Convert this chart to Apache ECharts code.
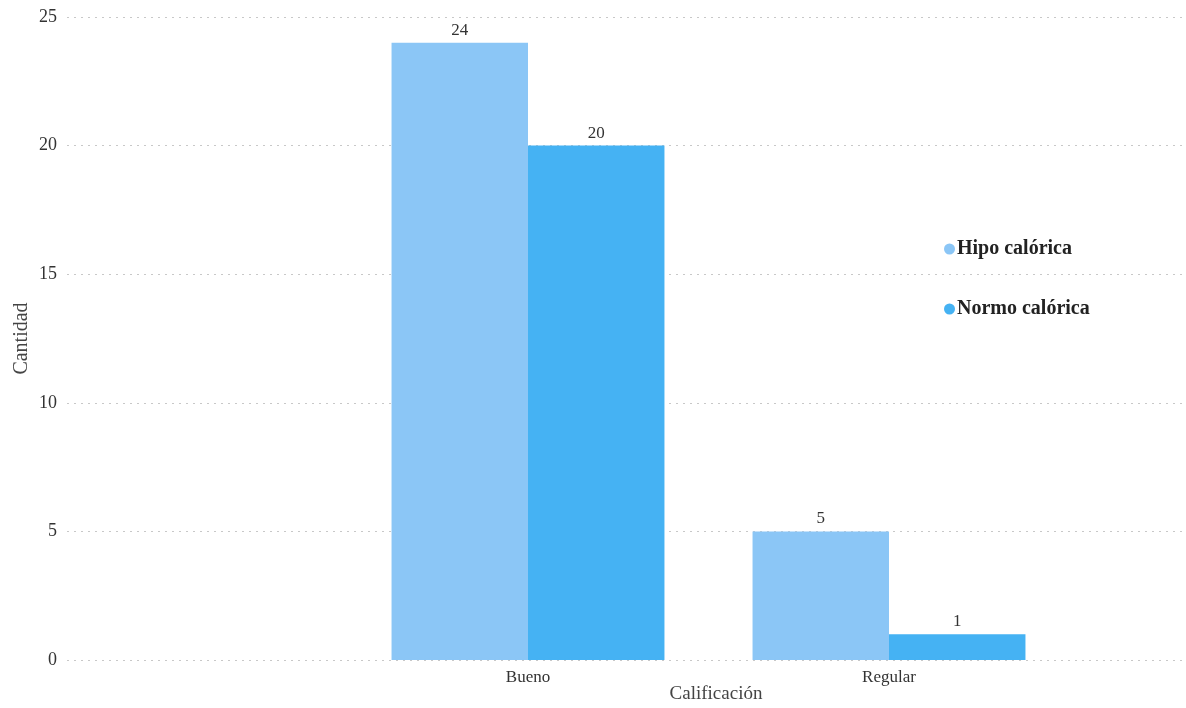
<!DOCTYPE html>
<html>
<head>
<meta charset="utf-8">
<script src="https://cdn.jsdelivr.net/npm/echarts@6/dist/echarts.min.js"></script>
<style>html,body{margin:0;padding:0;background:#fff;}#c{width:1186px;height:708px;}</style>
</head>
<body>
<div id="c"></div>
<script>
const categories = ['Bueno', 'Regular'];
const seriesNames = ['Hipo calórica', 'Normo calórica'];
const hipo = [24, 5];
const normo = [20, 1];
const yTicks = { min: 0, max: 25, interval: 5 };

const font = '"Liberation Serif", "Times New Roman", serif';
const chart = echarts.init(document.getElementById('c'));
chart.setOption({
  backgroundColor: '#fff',
  animation: false,
  textStyle: { fontFamily: font },
  color: ['#8BC6F6', '#45B2F3'],
  legend: {
    orient: 'vertical',
    left: 939, top: 234,
    itemGap: 40,
    icon: 'circle',
    itemWidth: 11, itemHeight: 11,
    textStyle: { fontFamily: font, fontSize: 20, fontWeight: 'bold', color: '#222', padding: [0, 0, 0, -3] },
    data: seriesNames
  },
  grid: [
    { left: 67, right: 4, top: 17, bottom: 48, outerBoundsMode: 'none', containLabel: false },
    { left: 347.5, right: 116.5, top: 17, bottom: 48, outerBoundsMode: 'none', containLabel: false }
  ],
  xAxis: [
    { type: 'category', gridIndex: 0, data: [''], show: false },
    {
      type: 'category', gridIndex: 1, data: categories,
      axisLine: { show: false }, axisTick: { show: false },
      axisLabel: { fontFamily: font, fontSize: 17, color: '#333', margin: 9 },
      name: 'Calificación', nameLocation: 'middle', nameGap: 25, nameMoveOverlap: false,
      nameTextStyle: { fontFamily: font, fontSize: 19, color: '#444', padding: [0, 0, 0, 15] }
    }
  ],
  yAxis: [
    {
      type: 'value', gridIndex: 0, min: yTicks.min, max: yTicks.max, interval: yTicks.interval,
      axisLine: { show: false }, axisTick: { show: false },
      axisLabel: { fontFamily: font, fontSize: 18, color: '#333', margin: 10 },
      splitLine: { lineStyle: { type: [2, 5], color: '#c8c8c8', width: 1 } },
      name: 'Cantidad', nameLocation: 'middle', nameGap: 35, nameRotate: 90, nameMoveOverlap: false,
      nameTextStyle: { fontFamily: font, fontSize: 20, color: '#444' }
    },
    {
      type: 'value', gridIndex: 1, min: yTicks.min, max: yTicks.max, interval: yTicks.interval,
      show: false, splitLine: { show: false }
    }
  ],
  series: [
    {
      name: seriesNames[0], type: 'bar', xAxisIndex: 1, yAxisIndex: 1,
      data: hipo, barGap: '0%', barCategoryGap: '24.4%',
      label: { show: true, position: 'top', distance: 4, fontFamily: font, fontSize: 17, color: '#333' }
    },
    {
      name: seriesNames[1], type: 'bar', xAxisIndex: 1, yAxisIndex: 1,
      data: normo, barGap: '0%', barCategoryGap: '24.4%',
      label: { show: true, position: 'top', distance: 4, fontFamily: font, fontSize: 17, color: '#333' }
    }
  ]
});
</script>
</body>
</html>
